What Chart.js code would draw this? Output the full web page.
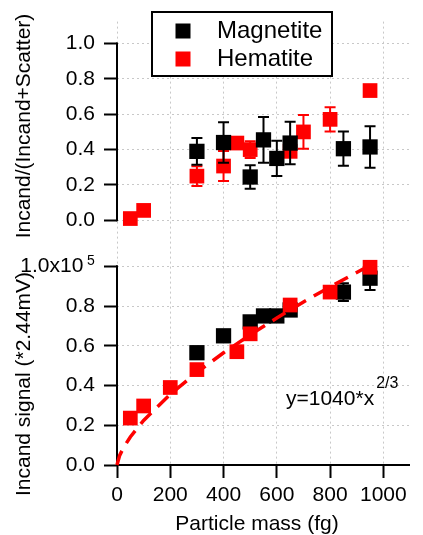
<!DOCTYPE html>
<html>
<head>
<meta charset="utf-8">
<script src="https://cdn.jsdelivr.net/npm/chart.js@4.4.0/dist/chart.umd.min.js"></script>
<style>
  html, body { margin: 0; padding: 0; background: #fff; }
  canvas { display: block; }
</style>
</head>
<body>
<canvas id="myChart" width="423" height="535"></canvas>
<script>
// particle mass (fg) for each sample
const magMass = [300, 400, 500, 550, 600, 650, 850, 950];
const hemMassTop = [50, 100, 300, 400, 450, 500, 650, 700, 800, 950];
const hemMassBottom = [50, 100, 200, 300, 450, 500, 650, 800, 950];

// upper panel: Incand/(Incand+Scatter) and error bar half-widths
const magFrac = [0.39, 0.44, 0.245, 0.455, 0.35, 0.437, 0.405, 0.415];
const magFracErr = [0.075, 0.115, 0.067, 0.13, 0.1, 0.12, 0.097, 0.117];
const hemFrac = [0.01, 0.056, 0.25, 0.307, 0.437, 0.40, 0.39, 0.50, 0.571, 0.734];
const hemFracErr = [0, 0, 0.056, 0.085, 0.02, 0.047, 0.03, 0.095, 0.068, 0];

// lower panel: incandescence signal (*2.44mV)
const magSignal = [56500, 65000, 72000, 75000, 75000, 78000, 87000, 94000];
const magSignalErr = [0, 0, 0, 0, 0, 0, 4500, 6000];
const hemSignal = [23600, 29700, 39000, 48000, 57000, 66000, 80500, 87000, 99500];

// y = 1040*x^(2/3) fit
const fitMass = [0, 10, 25, 50, 100, 200, 300, 400, 500, 600, 700, 800, 950];
const fitSignal = [0, 4830, 8890, 14120, 22410, 35570, 46600, 56460, 65520, 73990, 82040, 89630, 100520];

// tick marks
const massTicks = [0, 200, 400, 600, 800, 1000];
const fracTicks = [0, 0.2, 0.4, 0.6, 0.8, 1.0];
const signalTicks = [0, 20000, 40000, 60000, 80000, 100000];
const signalTickLabels = ['0.0', '0.2', '0.4', '0.6', '0.8', '1.0x10  '];
const signalExponent = '5';

const FONT = 'Liberation Sans, Arial, sans-serif';
const RED = '#ff0000';
const BLACK = '#000000';

const toPoints = (xs, ys) => xs.map((x, i) => ({ x: x, y: ys[i] }));

const errorBars = {
  id: 'errorBars',
  afterDatasetDraw(chart, args) {
    const ds = chart.data.datasets[args.index];
    if (!ds.errors) return;
    const xs = chart.scales.x;
    const ys = chart.scales[ds.yAxisID];
    const ctx = chart.ctx;
    ctx.save();
    ctx.strokeStyle = ds.backgroundColor;
    ctx.lineWidth = 2;
    ds.data.forEach((p, i) => {
      const e = ds.errors[i];
      if (!e) return;
      const px = xs.getPixelForValue(p.x);
      const top = ys.getPixelForValue(p.y + e);
      const bot = ys.getPixelForValue(p.y - e);
      ctx.beginPath();
      ctx.moveTo(px, top); ctx.lineTo(px, bot);
      ctx.moveTo(px - 5.5, top); ctx.lineTo(px + 5.5, top);
      ctx.moveTo(px - 5.5, bot); ctx.lineTo(px + 5.5, bot);
      ctx.stroke();
    });
    ctx.restore();
  }
};

// solid axis lines, only over each panel's own range
const axisLines = {
  id: 'axisLines',
  beforeDatasetsDraw(chart) {
    const ctx = chart.ctx;
    const a = chart.chartArea;
    const yt = chart.scales.yTop, yb = chart.scales.yBottom;
    ctx.save();
    ctx.strokeStyle = BLACK;
    ctx.lineWidth = 2;
    ctx.beginPath();
    ctx.moveTo(a.left, yt.getPixelForValue(1.0) - 1);
    ctx.lineTo(a.left, yt.getPixelForValue(0) + 1);
    ctx.moveTo(a.left, yb.getPixelForValue(100000) - 1);
    ctx.lineTo(a.left, yb.getPixelForValue(0));
    ctx.moveTo(a.left - 1, yb.getPixelForValue(0));
    ctx.lineTo(a.right, yb.getPixelForValue(0));
    ctx.stroke();
    ctx.restore();
  }
};

// legend box, axis titles, exponent and fit equation
const annotations = {
  id: 'annotations',
  afterDraw(chart) {
    const ctx = chart.ctx;
    const yb = chart.scales.yBottom;
    ctx.save();

    // legend
    ctx.fillStyle = '#fff';
    ctx.fillRect(152, 12, 180, 64);
    ctx.strokeStyle = BLACK;
    ctx.lineWidth = 2;
    ctx.strokeRect(152, 12, 180, 64);
    ctx.fillStyle = BLACK;
    ctx.fillRect(175.5, 23.5, 15, 15);
    ctx.fillStyle = RED;
    ctx.fillRect(175.5, 51.5, 15, 15);
    ctx.fillStyle = BLACK;
    ctx.font = '24px ' + FONT;
    ctx.textAlign = 'left';
    ctx.textBaseline = 'alphabetic';
    ctx.fillText('Magnetite', 217, 38);
    ctx.fillText('Hematite', 217, 66);

    // exponent of the top signal tick
    ctx.font = '14px ' + FONT;
    ctx.fillText(signalExponent, 87, yb.getPixelForValue(100000) - 1);

    // fit equation
    ctx.font = '21px ' + FONT;
    ctx.fillText('y=1040*x', 286, 405);
    const w = ctx.measureText('y=1040*x').width;
    ctx.font = '16px ' + FONT;
    ctx.fillText('2/3', 286 + w + 2, 388);

    // axis titles
    ctx.font = '21px ' + FONT;
    ctx.textAlign = 'center';
    ctx.fillText('Particle mass (fg)', 257, 530);
    ctx.save();
    ctx.translate(30, 126);
    ctx.rotate(-Math.PI / 2);
    ctx.fillText('Incand/(Incand+Scatter)', 0, 0);
    ctx.restore();
    ctx.save();
    ctx.translate(30, 384);
    ctx.rotate(-Math.PI / 2);
    ctx.fillText('Incand signal (*2.44mV)', 0, 0);
    ctx.restore();

    ctx.restore();
  }
};

const gridOpts = {
  color: '#c8c8c8',
  lineWidth: 1,
  tickColor: BLACK,
  tickWidth: 2,
  tickLength: 13,
  tickBorderDash: []
};

const tickFont = { family: FONT, size: 21 };

const ctx = document.getElementById('myChart').getContext('2d');
const chart = new Chart(ctx, {
  type: 'scatter',
  data: {
    datasets: [
      {
        label: 'Magnetite',
        data: toPoints(magMass, magFrac),
        errors: magFracErr,
        yAxisID: 'yTop',
        backgroundColor: BLACK,
        pointStyle: 'rect',
        pointRadius: 10.8,
        pointBorderWidth: 0,
        order: 3,
        clip: false
      },
      {
        label: 'Hematite',
        data: toPoints(hemMassTop, hemFrac),
        errors: hemFracErr,
        yAxisID: 'yTop',
        backgroundColor: RED,
        pointStyle: 'rect',
        pointRadius: 10.4,
        pointBorderWidth: 0,
        order: 4,
        clip: false
      },
      {
        label: 'Magnetite',
        data: toPoints(magMass, magSignal),
        errors: magSignalErr,
        yAxisID: 'yBottom',
        backgroundColor: BLACK,
        pointStyle: 'rect',
        pointRadius: 10.8,
        pointBorderWidth: 0,
        order: 2,
        clip: false
      },
      {
        label: 'Hematite',
        data: toPoints(hemMassBottom, hemSignal),
        yAxisID: 'yBottom',
        backgroundColor: RED,
        pointStyle: 'rect',
        pointRadius: 10.4,
        pointBorderWidth: 0,
        order: 1,
        clip: false
      },
      {
        label: 'fit',
        data: toPoints(fitMass, fitSignal),
        yAxisID: 'yBottom',
        showLine: true,
        borderColor: RED,
        borderWidth: 3.5,
        borderDash: [15, 9],
        pointRadius: 0,
        tension: 0,
        order: 0,
        clip: false
      }
    ]
  },
  options: {
    responsive: false,
    animation: false,
    devicePixelRatio: 1,
    layout: { padding: { top: 15, right: 13, left: 0, bottom: 0 } },
    plugins: {
      legend: { display: false },
      tooltip: { enabled: false }
    },
    scales: {
      x: {
        type: 'linear',
        position: 'bottom',
        min: 0,
        max: 1100,
        afterBuildTicks: scale => { scale.ticks = massTicks.map(v => ({ value: v })); },
        afterFit: scale => { scale.height = 70; },
        ticks: {
          color: BLACK,
          font: tickFont,
          padding: 5,
          autoSkip: false,
          maxRotation: 0,
          callback: v => String(v)
        },
        grid: gridOpts,
        border: { display: false, dash: [2, 3] }
      },
      yBottom: {
        type: 'linear',
        position: 'left',
        stack: 'panels',
        stackWeight: 1,
        min: 0,
        max: 111550,
        afterBuildTicks: scale => { scale.ticks = signalTicks.map(v => ({ value: v })); },
        afterFit: scale => { scale.width = 117; },
        ticks: {
          color: BLACK,
          font: tickFont,
          padding: 9,
          autoSkip: false,
          callback: (v, i) => signalTickLabels[i]
        },
        grid: gridOpts,
        border: { display: false, dash: [2, 3] }
      },
      yTop: {
        type: 'linear',
        position: 'left',
        stack: 'panels',
        stackWeight: 1,
        min: -0.13,
        max: 1.124,
        afterBuildTicks: scale => { scale.ticks = fracTicks.map(v => ({ value: v })); },
        afterFit: scale => { scale.width = 117; },
        ticks: {
          color: BLACK,
          font: tickFont,
          padding: 9,
          autoSkip: false,
          callback: v => v.toFixed(1)
        },
        grid: gridOpts,
        border: { display: false, dash: [2, 3] }
      }
    }
  },
  plugins: [errorBars, axisLines, annotations]
});
</script>
</body>
</html>
